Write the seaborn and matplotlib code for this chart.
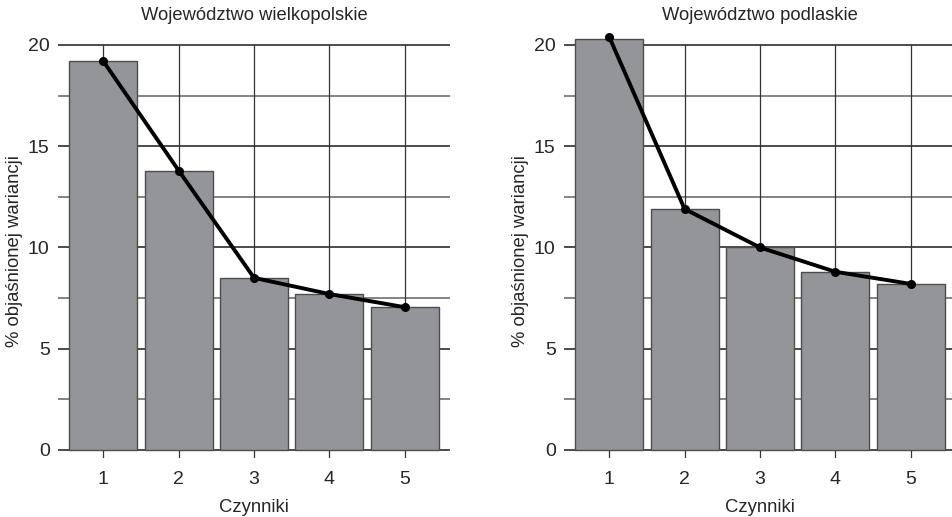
import pandas as pd
import matplotlib.pyplot as plt
import seaborn as sns

# Explained variance per factor (% objaśnionej wariancji)
factors = [1, 2, 3, 4, 5]
wielkopolskie_bars = [19.2, 13.8, 8.5, 7.7, 7.05]
wielkopolskie_line = [19.2, 13.8, 8.5, 7.7, 7.05]
podlaskie_bars = [20.3, 11.9, 10.0, 8.8, 8.2]
podlaskie_line = [20.4, 11.9, 10.0, 8.8, 8.2]
titles = ["Województwo wielkopolskie", "Województwo podlaskie"]

sns.set_style("white")
plt.rcParams['font.family'] = ['Liberation Sans', 'DejaVu Sans']

fig = plt.figure(figsize=(9.53, 5.17), dpi=100)
ax_left = fig.add_axes([0.0609, 0.114, 0.4113, 0.801])
ax_right = fig.add_axes([0.5918, 0.114, 0.4113, 0.801])

panels = [
    (ax_left, wielkopolskie_bars, wielkopolskie_line, titles[0]),
    (ax_right, podlaskie_bars, podlaskie_line, titles[1]),
]

for ax, bars, line, title in panels:
    df = pd.DataFrame({'Czynnik': factors, 'Bar': bars, 'Line': line})
    ax.set_axisbelow(True)
    # grid lines drawn by hand so minor/major can differ in colour
    for y in [2.5, 7.5, 12.5, 17.5]:
        ax.axhline(y, color='#7a7a7a', lw=1.3, zorder=0)
    for y in [0, 5, 10, 15, 20]:
        ax.axhline(y, color='#1a1a1a', lw=1.1, zorder=0)
    for x in factors:
        ax.plot([x, x], [-0.4, 20], color='#333333', lw=0.9, zorder=0)

    bar_cont = ax.bar(df['Czynnik'], df['Bar'], width=0.9, color='#939598',
                      edgecolor='#4d4d4d', linewidth=1.0, zorder=2)
    for b in bar_cont:
        b.set_clip_on(False)
    sns.lineplot(data=df, x='Czynnik', y='Line', ax=ax, color='black',
                 linewidth=2.8, marker='o', markersize=6.5, markeredgewidth=0,
                 zorder=3, clip_on=False)

    ax.set_xlim(0.4, 5.6)
    ax.set_ylim(-0.4, 20.05)
    ax.set_xticks(factors)
    ax.set_yticks([0, 5, 10, 15, 20])
    ax.tick_params(length=0, labelsize=14, pad=9)
    ax.tick_params(axis='y', pad=6)
    for s in ax.spines.values():
        s.set_visible(False)
    ax.set_title(title, fontsize=13.2, pad=17)
    ax.set_xlabel('Czynniki', fontsize=13.3, labelpad=8)
    ax.set_ylabel('% objaśnionej wariancji', fontsize=13.3)
    ax.yaxis.set_label_coords(-0.089, 0.5)

fig.savefig('out.png', dpi=100)
plt.close(fig)
